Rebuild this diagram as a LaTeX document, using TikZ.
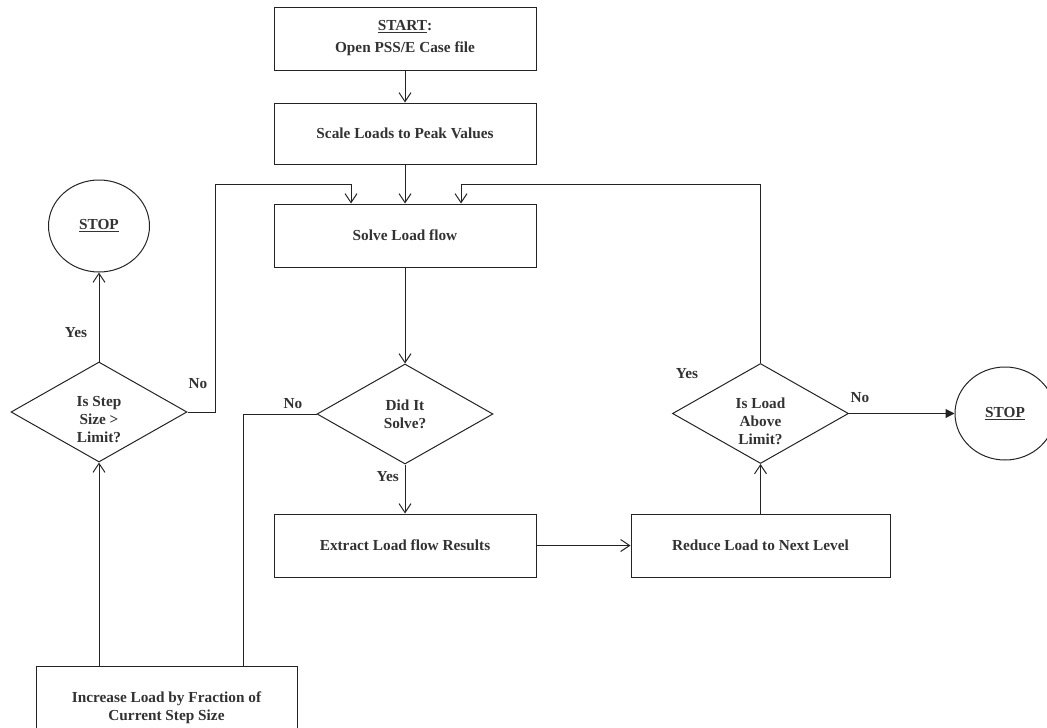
\documentclass[tikz,border=0pt]{standalone}
\usepackage{fontspec}
\setmainfont{Liberation Serif}
\usetikzlibrary{arrows.meta,shapes.geometric,positioning}
\definecolor{inkline}{RGB}{35,35,35}
\definecolor{inktext}{RGB}{50,50,50}
\tikzset{
    flowbox/.style={draw=inkline,line width=1pt,rectangle,inner sep=2pt,align=center},
    flowdia/.style={draw=inkline,line width=1pt,diamond,inner sep=0pt,minimum width=176pt,minimum height=100pt},
    flowend/.style={draw=inkline,line width=1pt,ellipse,inner sep=0pt},
    flowtxt/.style={align=center,inner sep=0pt},
    flowlab/.style={inner sep=0pt},
    flowline/.style={draw=inkline,line width=1pt},
    flowarr/.style={flowline,-{Straight Barb[length=9pt,width=12pt,line width=1pt]}},
    flowfill/.style={flowline,-{Triangle[length=9pt,width=9pt]}},
    every node/.style={font=\fontsize{15.3}{18}\selectfont\bfseries,text=inktext}
}
\begin{document}
\begin{tikzpicture}[x=1pt,y=-1pt]
  \useasboundingbox (0,0) rectangle (1047,728);

  % boxes
  \node[flowbox,minimum width=262pt,minimum height=63pt] (start)   at (405,38.5)  {\underline{START}:\\[4pt]Open PSS/E Case file};
  \node[flowbox,minimum width=262pt,minimum height=61pt] (scale)   at (405,133.5) {Scale Loads to Peak Values};
  \node[flowbox,minimum width=262pt,minimum height=63pt] (solve)   at (405,235.5) {Solve Load flow};
  \node[flowbox,minimum width=262pt,minimum height=63pt] (extract) at (405,545.5) {Extract Load flow Results};
  \node[flowbox,minimum width=259pt,minimum height=63pt] (reduce)  at (760.5,545.5) {Reduce Load to Next Level};
  \node[flowbox,minimum width=261pt,minimum height=84pt] (incr)    at (166.5,708) {Increase Load by Fraction of\\Current Step Size};

  % decisions
  \node[flowdia] (step) at (99,412) {};
  \node[flowdia] (did)  at (405,414) {};
  \node[flowdia] (load) at (760.5,413.5) {};
  \node[flowtxt] (stept) at ([yshift=-8pt]step.center) {Is Step\\Size >\\Limit?};
  \node[flowtxt] (didt)  at (did.center) {Did It\\Solve?};
  \node[flowtxt] (loadt) at ([yshift=-8pt]load.center) {Is Load\\Above\\Limit?};

  % terminals
  \node[flowend,minimum width=101pt,minimum height=92pt] (stopl) at (99,226)    {\underline{STOP}};
  \node[flowend,minimum width=100pt,minimum height=93pt] (stopr) at (1005,413.5) {\underline{STOP}};

  % junctions
  \coordinate (jl) at (351,184);
  \coordinate (jr) at (461,184);

  % connectors
  \draw[flowarr] (start) -- (scale);
  \draw[flowarr] (scale) -- (solve);
  \draw[flowarr] (solve) -- (did);
  \draw[flowarr] (did) -- (extract);
  \draw[flowarr] (extract) -- (reduce);
  \draw[flowarr] (reduce) -- (load);
  \draw[flowfill] (load.east) -- (stopr.west);
  \draw[flowarr] (load.north) |- (jr) -- (jr |- solve.north);
  \draw[flowline] (did.west) -| ([xshift=76.5pt]incr.north);
  \draw[flowarr] (incr.north -| step.south) -- (step.south);
  \draw[flowarr] (step.north) -- (stopl.south);
  \draw[flowarr] (step.east) -- ++(28,0) |- (jl) -- (jl |- solve.north);

  % labels
  \node[flowlab] (lyes1) at (76,333)  {Yes};
  \node[flowlab] (lno1)  at (198,384) {No};
  \node[flowlab] (lno2)  at (293,404) {No};
  \node[flowlab,anchor=east] (lyes2) at (399,477) {Yes};
  \node[flowlab] (lyes3) at (687,374) {Yes};
  \node[flowlab] (lno3)  at (860,398) {No};
\end{tikzpicture}
\end{document}
